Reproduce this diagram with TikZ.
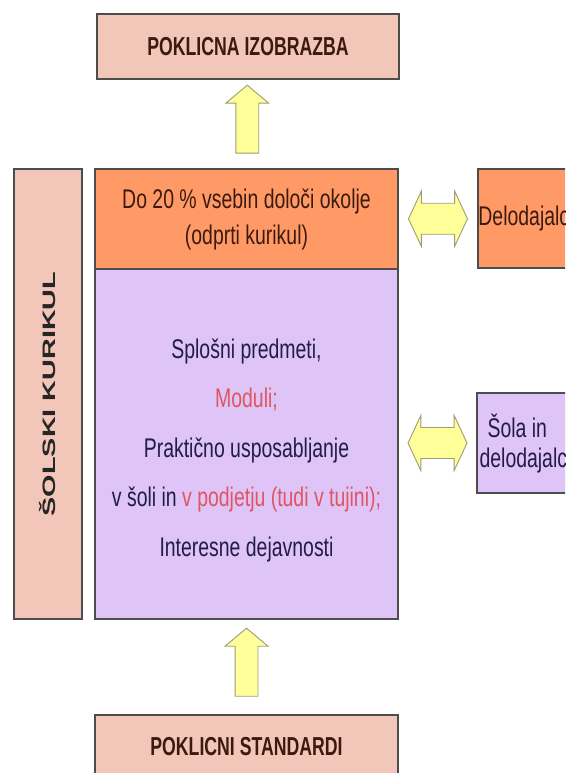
\documentclass[tikz,border=0pt]{standalone}
\usepackage{fontspec}
\setmainfont{Liberation Sans}[FakeStretch=0.72]
\newfontfamily\headfont{Liberation Sans}[FakeStretch=0.68]
\newfontfamily\sidefont{Liberation Sans}[FakeStretch=1.6]
\usetikzlibrary{shapes.arrows,calc}

\definecolor{pinkbox}{HTML}{F2C6B8}
\definecolor{orangebox}{HTML}{FF9A66}
\definecolor{lilacbox}{HTML}{DEC4F7}
\definecolor{boxline}{HTML}{4D4D4D}
\definecolor{arrowfill}{HTML}{FFFF99}
\definecolor{arrowline}{HTML}{9C9C78}
\definecolor{navytext}{HTML}{221C48}
\definecolor{redtext}{HTML}{E0555F}
\definecolor{browntext}{HTML}{3C1A0E}

\tikzset{
  box/.style={draw=boxline, line width=1.1pt, inner sep=0pt, align=center},
  headbox/.style={box, fill=pinkbox, text=browntext, font=\headfont\bfseries\fontsize{26}{30}\selectfont},
  bodytext/.style={font=\fontsize{27}{30}\selectfont},
  uparrow/.style={single arrow, draw=arrowline, fill=arrowfill, line width=0.9pt, inner sep=11pt,
    minimum height=68pt, minimum width=42pt, single arrow head extend=10pt,
    single arrow tip angle=100, shape border rotate=90},
  sidearrow/.style={double arrow, draw=arrowline, fill=arrowfill, line width=0.9pt, inner sep=15pt,
    minimum height=59pt, minimum width=55pt, double arrow head extend=12pt,
    double arrow tip angle=130}
}

\begin{document}
\begin{tikzpicture}[x=1pt,y=-1pt]
  \useasboundingbox (0,0) rectangle (565,773);
  \clip (0,0) rectangle (565,773);
  \fill[white] (0,0) rectangle (565,773);

  \node[headbox, minimum width=302pt, minimum height=65pt] (izobrazba) at (248,46.5) {POKLICNA IZOBRAZBA};
  \node[box, bodytext, fill=orangebox, text=browntext, minimum width=303pt, minimum height=100pt] (okolje) at (246.5,219)
    {Do 20 \% vsebin določi okolje\\[6pt](odprti kurikul)};
  \node[box, fill=lilacbox, minimum width=303pt, minimum height=350pt] (predmeti) at (246.5,444) {};
  \node[align=center, text=navytext, font=\fontsize{27}{49.5}\selectfont] (predmetitekst) at ([yshift=-6pt]predmeti.center)
    {Splošni predmeti,\\ \textcolor{redtext}{Moduli;}\\ Praktično usposabljanje\\
     v šoli in \textcolor{redtext}{v podjetju (tudi v tujini);}\\ Interesne dejavnosti};
  \node[box, fill=pinkbox, minimum width=68pt, minimum height=450pt] (kurikul) at (48,394) {};
  \node[rotate=90, text=black!85, font=\sidefont\bfseries\fontsize{18}{20}\selectfont] at (kurikul) {ŠOLSKI KURIKUL};
  \node[headbox, minimum width=303pt, minimum height=64pt] (standardi) at (246.5,747) {POKLICNI STANDARDI};

  \node[box, bodytext, fill=orangebox, text=browntext, minimum width=96pt, minimum height=99pt] (delodajalci) at (526,218.5) {Delodajalci};
  \node[box, bodytext, fill=lilacbox, text=navytext, minimum width=97pt, minimum height=100pt, align=left] (sola) at (525.5,443)
    {\hspace*{8pt}Šola in\\delodajalci};

  \node[uparrow] (gor1) at ($(izobrazba.south)!0.5!(okolje.north)$) {};
  \node[uparrow] (gor2) at ($(predmeti.south)!0.5!(standardi.north)$) {};
  \node[sidearrow] (vez1) at ($(okolje.east)!0.5!(delodajalci.west)$) {};
  \node[sidearrow] (vez2) at ($(predmeti.east |- sola.west)!0.5!(sola.west)$) {};
\end{tikzpicture}
\end{document}
